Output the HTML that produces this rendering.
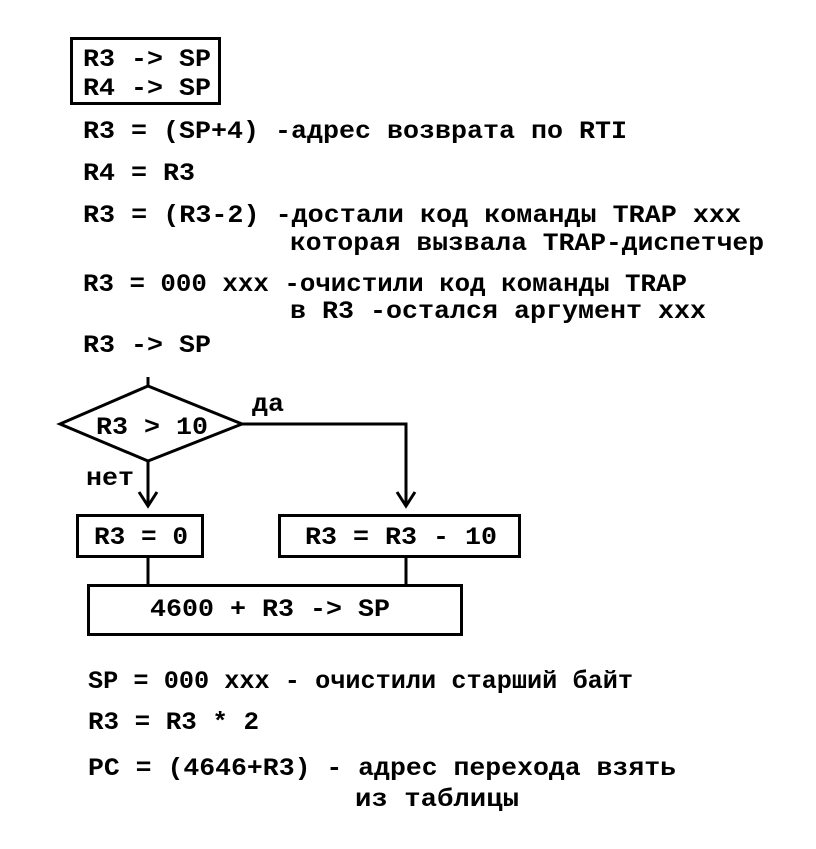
<!DOCTYPE html>
<html><head><meta charset="utf-8"><style>
html,body{margin:0;padding:0;background:#fff;}
svg{display:block;}
text{font-family:"Liberation Mono","DejaVu Sans Mono",monospace;font-weight:bold;font-size:25px;fill:#000;}
</style></head><body>
<svg width="816" height="849" viewBox="0 0 816 849" xmlns="http://www.w3.org/2000/svg">
<g fill="none" stroke="#000" stroke-width="3">
<rect x="71.5" y="38.5" width="148" height="65"/>
<polygon points="60,424 148,386 242,424 148,461"/>
<line x1="148" y1="377" x2="148" y2="386"/>
<polyline points="242,424 406,424 406,506"/>
<line x1="148" y1="461" x2="148" y2="506"/>
<polyline points="139,492 148,506 157,492"/>
<polyline points="397,492 406,506 415,492"/>
<rect x="77.5" y="515.5" width="125" height="41"/>
<rect x="279.5" y="515.5" width="240" height="41"/>
<line x1="148" y1="557" x2="148" y2="585"/>
<line x1="406" y1="557" x2="406" y2="585"/>
<rect x="88.5" y="585.5" width="373" height="49"/>
</g>
<text x="83" y="66" textLength="128" lengthAdjust="spacingAndGlyphs">R3 -&gt; SP</text>
<text x="83" y="95" textLength="128" lengthAdjust="spacingAndGlyphs">R4 -&gt; SP</text>
<text x="83" y="138" textLength="544" lengthAdjust="spacingAndGlyphs">R3 = (SP+4) -адрес возврата по RTI</text>
<text x="83" y="180" textLength="112" lengthAdjust="spacingAndGlyphs">R4 = R3</text>
<text x="83" y="222" textLength="658" lengthAdjust="spacingAndGlyphs">R3 = (R3-2) -достали код команды TRAP xxx</text>
<text x="290" y="250" textLength="474" lengthAdjust="spacingAndGlyphs">которая вызвала TRAP-диспетчер</text>
<text x="83" y="291" textLength="604" lengthAdjust="spacingAndGlyphs">R3 = 000 xxx -очистили код команды TRAP</text>
<text x="290" y="318" textLength="416" lengthAdjust="spacingAndGlyphs">в R3 -остался аргумент xxx</text>
<text x="83" y="352" textLength="128" lengthAdjust="spacingAndGlyphs">R3 -&gt; SP</text>
<text x="96" y="434" textLength="112" lengthAdjust="spacingAndGlyphs">R3 &gt; 10</text>
<text x="252" y="411" textLength="32" lengthAdjust="spacingAndGlyphs">да</text>
<text x="86" y="485" textLength="48" lengthAdjust="spacingAndGlyphs">нет</text>
<text x="94" y="544" textLength="94" lengthAdjust="spacingAndGlyphs">R3 = 0</text>
<text x="305" y="544" textLength="192" lengthAdjust="spacingAndGlyphs">R3 = R3 - 10</text>
<text x="150" y="616" textLength="240" lengthAdjust="spacingAndGlyphs">4600 + R3 -&gt; SP</text>
<text x="88" y="688" textLength="545" lengthAdjust="spacingAndGlyphs">SP = 000 xxx - очистили старший байт</text>
<text x="88" y="729" textLength="171" lengthAdjust="spacingAndGlyphs">R3 = R3 * 2</text>
<text x="88" y="775" textLength="588" lengthAdjust="spacingAndGlyphs">PC = (4646+R3) - адрес перехода взять</text>
<text x="355" y="806" textLength="164" lengthAdjust="spacingAndGlyphs">из таблицы</text>
</svg>
</body></html>
